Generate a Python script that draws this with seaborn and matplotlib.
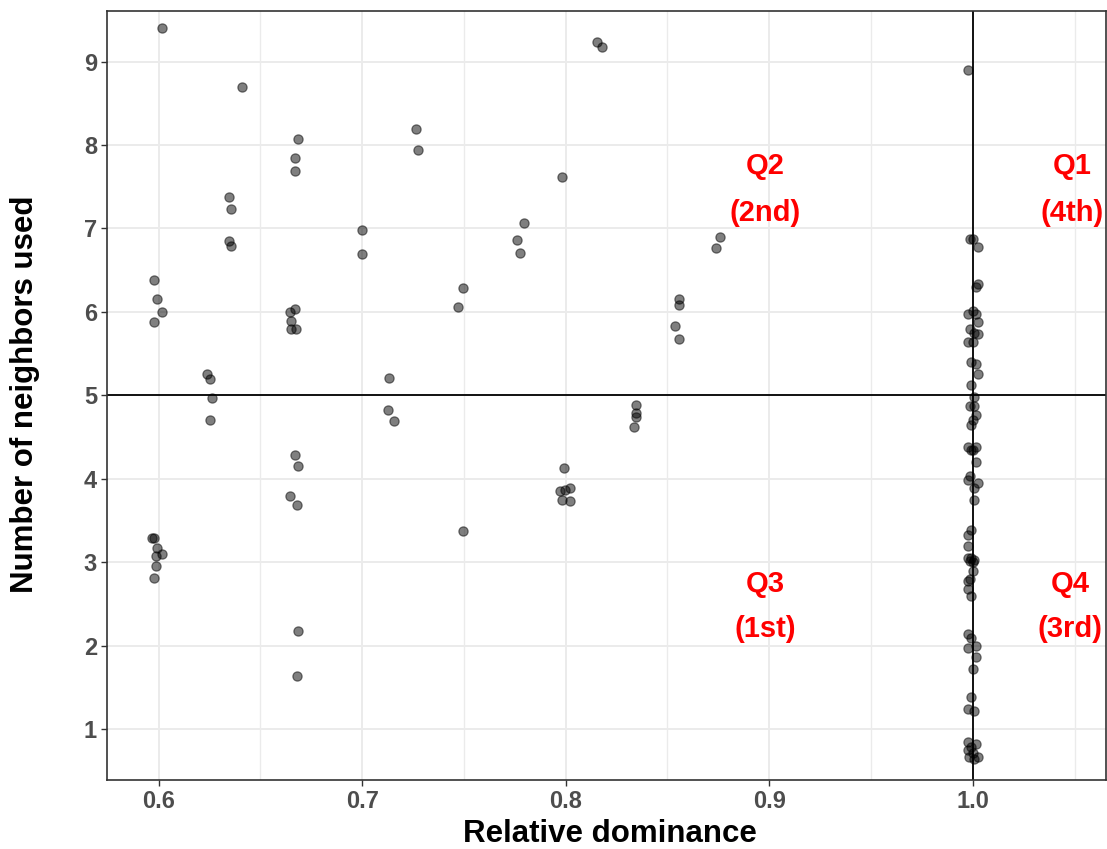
import matplotlib
matplotlib.use("Agg")
import matplotlib.pyplot as plt
import seaborn as sns
import pandas as pd

# Points with relative dominance below 1
spread_dominance = [
    0.6017, 0.5978, 0.5994, 0.6017, 0.5978,
    0.5970, 0.5978, 0.5994, 0.5986, 0.6017, 0.5986, 0.5978,
    0.6237, 0.6254, 0.6261, 0.6254,
    0.6347, 0.6356, 0.6347, 0.6356, 0.6410,
    0.6686, 0.6670, 0.6670, 0.6644, 0.6670, 0.6652, 0.6652, 0.6673,
    0.6671, 0.6686, 0.6644, 0.6678, 0.6686, 0.6678,
    0.7000, 0.7000,
    0.7134, 0.7126, 0.7156,
    0.7267, 0.7275,
    0.7496, 0.7471, 0.7496,
    0.7793, 0.7762, 0.7777,
    0.7981, 0.7990, 0.7974, 0.7998, 0.8023, 0.7981, 0.8023,
    0.8155, 0.8178,
    0.8345, 0.8345, 0.8345, 0.8335,
    0.8555, 0.8555, 0.8539, 0.8555,
    0.8760, 0.8736,
]
spread_neighbors = [
    9.40, 6.38, 6.16, 6.00, 5.88,
    3.29, 3.29, 3.17, 3.08, 3.10, 2.96, 2.81,
    5.25, 5.19, 4.97, 4.71,
    7.38, 7.23, 6.85, 6.79, 8.69,
    8.07, 7.85, 7.69, 6.00, 6.04, 5.89, 5.79, 5.79,
    4.29, 4.15, 3.79, 3.69, 2.18, 1.64,
    6.98, 6.69,
    5.21, 4.83, 4.69,
    8.19, 7.94,
    6.29, 6.06, 3.37,
    7.06, 6.86, 6.71,
    7.62, 4.13, 3.85, 3.87, 3.89, 3.75, 3.73,
    9.23, 9.17,
    4.89, 4.79, 4.74, 4.62,
    6.15, 6.08, 5.83, 5.67,
    6.90, 6.77,
]

# Points with full dominance (relative dominance = 1)
full_dominance = [
    0.9977,
    0.9985, 1.0000, 1.0025, 1.0025, 1.0018,
    0.9975, 1.0000, 1.0018, 1.0025, 0.9985, 1.0008, 1.0025,
    0.9977, 1.0000, 0.9992, 1.0018, 1.0025, 0.9992, 1.0008,
    0.9985, 1.0008, 1.0017, 1.0000, 0.9992,
    0.9975, 1.0000, 1.0017, 0.9992, 1.0017,
    0.9975, 0.9985, 1.0025, 1.0008, 1.0008,
    0.9992, 0.9975, 0.9975,
    0.9975, 0.9992, 1.0008, 0.9985, 1.0000,
    1.0000, 0.9975, 0.9985, 0.9975, 0.9992,
    0.9975, 0.9992, 0.9975, 1.0017, 1.0017,
    1.0000, 0.9992, 0.9975, 1.0008,
    0.9975, 1.0017, 0.9992, 0.9975,
    1.0000, 0.9983, 1.0025, 1.0008,
]
full_neighbors = [
    8.90,
    6.87, 6.87, 6.78, 6.34, 6.30,
    5.98, 6.01, 5.98, 5.88, 5.79, 5.75, 5.73,
    5.64, 5.64, 5.40, 5.37, 5.26, 5.12, 4.98,
    4.87, 4.87, 4.77, 4.70, 4.65,
    4.38, 4.35, 4.38, 4.35, 4.20,
    3.99, 4.03, 3.95, 3.89, 3.75,
    3.39, 3.33, 3.20,
    3.05, 3.05, 3.03, 3.01, 3.00,
    2.89, 2.78, 2.80, 2.68, 2.60,
    2.14, 2.09, 1.97, 1.99, 1.87,
    1.72, 1.39, 1.24, 1.22,
    0.84, 0.82, 0.79, 0.75,
    0.71, 0.67, 0.66, 0.64,
]

# Quadrant annotations: (label, rank, x, y of label, y of rank)
quad_labels = ["Q2", "Q1", "Q3", "Q4"]
quad_ranks = ["(2nd)", "(4th)", "(1st)", "(3rd)"]
quad_x = [0.898, 1.049, 0.898, 1.048]
quad_y_top = [7.75, 7.75, 2.74, 2.74]
quad_y_bot = [7.19, 7.19, 2.20, 2.20]

x_ticks = [0.6, 0.7, 0.8, 0.9, 1.0]
y_ticks = [1, 2, 3, 4, 5, 6, 7, 8, 9]

df = pd.DataFrame({
    "dominance": spread_dominance + full_dominance,
    "neighbors": spread_neighbors + full_neighbors,
})

sns.set_theme(style="white")
plt.rcParams["font.family"] = ["Liberation Sans", "DejaVu Sans"]

fig = plt.figure(figsize=(11.07, 8.49), dpi=100)
W, H = 1107, 849
left, right, top, bottom = 107.3, 1105.5, 10.7, 780.0
ax = fig.add_axes([left / W, 1 - bottom / H, (right - left) / W, (bottom - top) / H])

# grid (major + minor on x, major on y)
for gx in [0.6, 0.65, 0.7, 0.75, 0.8, 0.85, 0.9, 0.95, 1.0, 1.05]:
    ax.axvline(gx, color="#EBEBEB", lw=1.4 if gx in x_ticks else 1.0, zorder=0)
for gy in y_ticks:
    ax.axhline(gy, color="#EBEBEB", lw=1.4, zorder=0)

ax.axhline(5, color="black", lw=1.3, zorder=1)
ax.axvline(1.0, color="black", lw=1.3, zorder=1)

sns.scatterplot(
    data=df, x="dominance", y="neighbors", ax=ax,
    color="black", alpha=0.5, s=44, edgecolor="black", linewidth=0.9,
    zorder=3, legend=False,
)

for lab, rk, qx, yt, yb in zip(quad_labels, quad_ranks, quad_x, quad_y_top, quad_y_bot):
    ax.text(qx, yt, lab, color="red", fontsize=21, fontweight="bold",
            ha="center", va="center", zorder=4)
    ax.text(qx, yb, rk, color="red", fontsize=21, fontweight="bold",
            ha="center", va="center", zorder=4)

ax.set_xlim(0.5748, 1.0652)
ax.set_ylim(0.39, 9.61)
ax.set_xticks(x_ticks)
ax.set_xticklabels([f"{v:.1f}" for v in x_ticks])
ax.set_yticks(y_ticks)
ax.set_yticklabels([str(v) for v in y_ticks])

ax.tick_params(axis="both", which="major", length=4.5, width=1.0, color="#333333",
               labelsize=17, labelcolor="#4D4D4D", pad=3, direction="out",
               bottom=True, left=True)
for lbl in ax.get_xticklabels() + ax.get_yticklabels():
    lbl.set_fontweight("bold")

for sp in ax.spines.values():
    sp.set_color("#333333")
    sp.set_linewidth(1.2)

ax.set_xlabel("Relative dominance", fontsize=22.5, fontweight="bold", color="black")
ax.set_ylabel("Number of neighbors used", fontsize=22.5, fontweight="bold", color="black")
pw, ph = right - left, bottom - top
ax.xaxis.label.set_va("baseline")
ax.xaxis.set_label_coords((610 - left) / pw, (bottom - 842) / ph)
ax.yaxis.label.set_va("center")
ax.yaxis.set_label_coords((24.7 - left) / pw, (bottom - 394) / ph)
ax.grid(False)

fig.savefig("out.png", dpi=100)
